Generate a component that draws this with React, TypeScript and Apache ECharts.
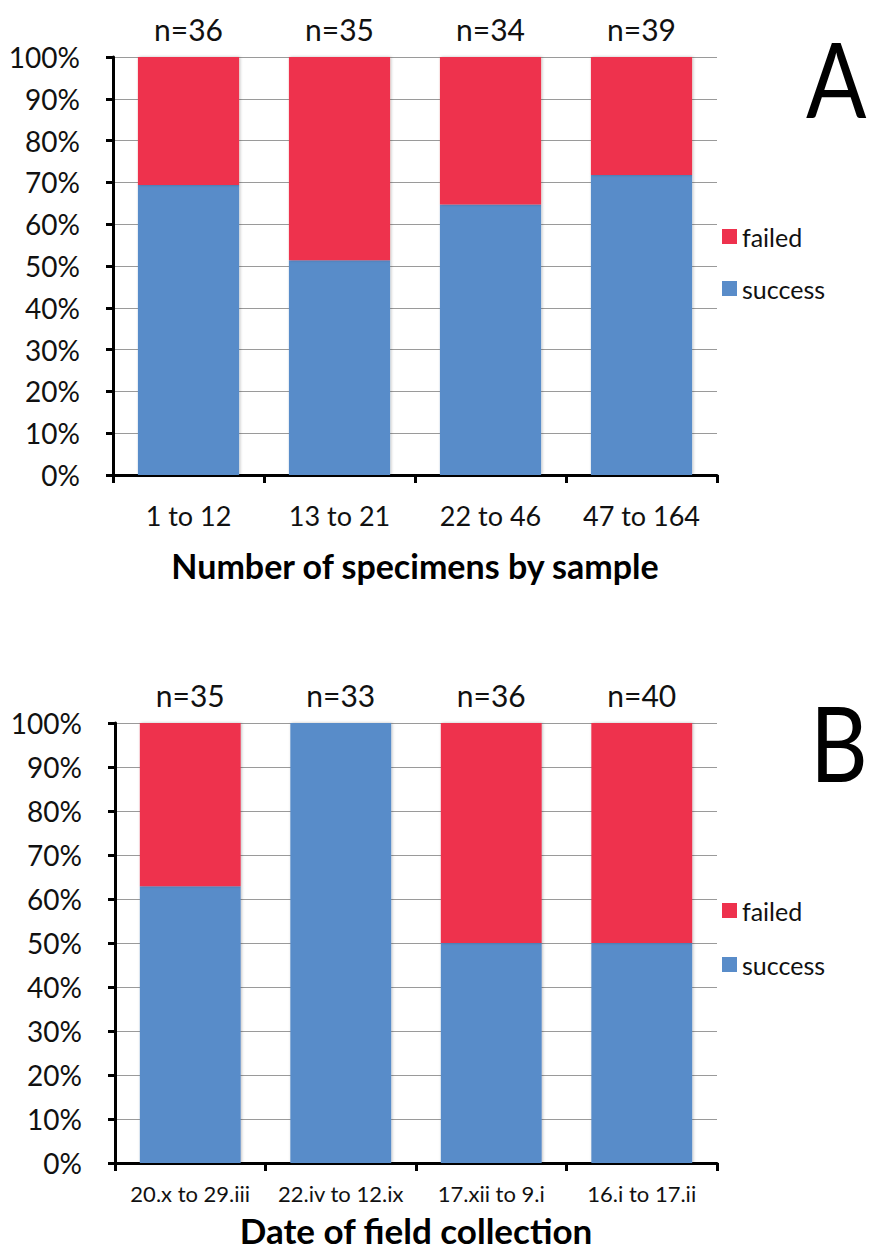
import React, { useEffect, useRef } from "react";
import * as echarts from "echarts";

const categoriesA = ["1 to 12", "13 to 21", "22 to 46", "47 to 164"];
const nLabelsA = ["n=36", "n=35", "n=34", "n=39"];
const successA = [69.4, 51.4, 64.7, 71.8];
const failedA = [30.6, 48.6, 35.3, 28.2];

const categoriesB = ["20.x to 29.iii", "22.iv to 12.ix", "17.xii to 9.i", "16.i to 17.ii"];
const nLabelsB = ["n=35", "n=33", "n=36", "n=40"];
const successB = [62.9, 100, 50, 50];
const failedB = [37.1, 0, 50, 50];

const yTicks = [0, 10, 20, 30, 40, 50, 60, 70, 80, 90, 100];

const BLUE = "#598cc9";
const RED = "#ee314d";
const FONT = "Lato, 'Open Sans', sans-serif";

export default function App() {
  const ref = useRef<HTMLDivElement>(null);
  useEffect(() => {
    if (!ref.current) return;
    const chart = echarts.init(ref.current, null, { renderer: "svg" });

    const grids = [
      { left: 113, top: 57, width: 604, height: 418 },
      { left: 115, top: 723, width: 602, height: 440 },
    ];

    const makeY = (gi: number) => ({
      type: "value",
      gridIndex: gi,
      min: yTicks[0],
      max: yTicks[yTicks.length - 1],
      interval: 10,
      axisLine: { show: true, lineStyle: { color: "#000", width: 3 } },
      axisTick: { show: true, length: 7, inside: false, lineStyle: { color: "#000", width: 3 } },
      axisLabel: {
        formatter: "{value}%",
        fontSize: 28,
        fontFamily: FONT,
        color: "#111",
        margin: 33,
      },
      splitLine: { show: true, lineStyle: { color: "#9a9a9a", width: 1 } },
    });

    const makeXBottom = (
      gi: number,
      cats: string[],
      fontSize: number,
      margin: number,
      name: string,
      nameGap: number,
      nameSize: number
    ) => ({
      type: "category",
      gridIndex: gi,
      position: "bottom",
      data: cats,
      boundaryGap: true,
      axisLine: { show: true, onZero: false, lineStyle: { color: "#000", width: 3 } },
      axisTick: { show: true, length: 8, alignWithLabel: false, lineStyle: { color: "#000", width: 3 } },
      axisLabel: { fontSize, fontFamily: FONT, color: "#111", margin, interval: 0 },
      name,
      nameLocation: "middle",
      nameGap,
      nameTextStyle: { fontSize: nameSize, fontWeight: "bold", fontFamily: FONT, color: "#000" },
    });

    const makeXTop = (gi: number, labels: string[]) => ({
      type: "category",
      gridIndex: gi,
      position: "top",
      data: labels,
      axisLine: { show: false },
      axisTick: { show: false },
      axisLabel: { fontSize: 30, fontFamily: FONT, color: "#111", margin: 13, interval: 0 },
      splitLine: { show: false },
    });

    const barStyle = (color: string) => ({
      color,
      shadowColor: "rgba(0,0,0,0.25)",
      shadowBlur: 3,
      shadowOffsetX: 1,
      shadowOffsetY: 0,
    });

    const option = {
      animation: false,
      backgroundColor: "#fff",
      grid: grids.map((g) => ({ ...g, containLabel: false })),
      xAxis: [
        makeXBottom(0, categoriesA, 27, 27, "Number of specimens by sample", 73, 34),
        makeXTop(0, nLabelsA),
        makeXBottom(1, categoriesB, 22, 19, "Date of field collection", 49, 35),
        makeXTop(1, nLabelsB),
      ],
      yAxis: [makeY(0), makeY(1)],
      legend: [
        {
          orient: "vertical",
          left: 717,
          top: 219,
          itemWidth: 15,
          itemHeight: 15,
          itemGap: 27,
          icon: "rect",
          data: ["failed", "success"],
          textStyle: { fontSize: 25, fontFamily: FONT, color: "#111" },
        },
        {
          orient: "vertical",
          left: 717,
          top: 893,
          itemWidth: 15,
          itemHeight: 15,
          itemGap: 29,
          icon: "rect",
          data: ["failed ", "success "],
          textStyle: { fontSize: 25, fontFamily: FONT, color: "#111" },
        },
      ],
      series: [
        { name: "success", type: "bar", stack: "a", xAxisIndex: 0, yAxisIndex: 0, data: successA, barCategoryGap: "33%", itemStyle: barStyle(BLUE) },
        { name: "failed", type: "bar", stack: "a", xAxisIndex: 0, yAxisIndex: 0, data: failedA, barCategoryGap: "33%", itemStyle: barStyle(RED) },
        { name: "success ", type: "bar", stack: "b", xAxisIndex: 2, yAxisIndex: 1, data: successB, barCategoryGap: "33%", itemStyle: barStyle(BLUE) },
        { name: "failed ", type: "bar", stack: "b", xAxisIndex: 2, yAxisIndex: 1, data: failedB, barCategoryGap: "33%", itemStyle: barStyle(RED) },
      ],
      graphic: [
        { type: "text", x: 806, y: 26, scaleX: 0.86, style: { text: "A", fontSize: 104, fontFamily: FONT, fill: "#000" } },
        { type: "text", x: 810, y: 690, scaleX: 0.86, style: { text: "B", fontSize: 104, fontFamily: FONT, fill: "#000" } },
      ],
    };

    chart.setOption(option as any);
    return () => chart.dispose();
  }, []);

  return (
    <div
      ref={ref}
      style={{ position: "absolute", left: 0, top: 0, width: 870, height: 1251 }}
    />
  );
}
